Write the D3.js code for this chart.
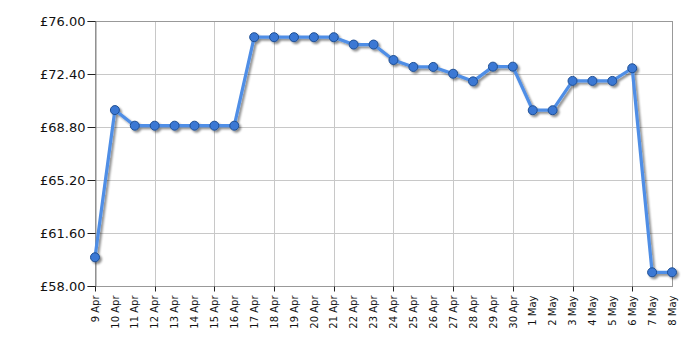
<!DOCTYPE html>
<html>
<head>
<meta charset="utf-8">
<script src="https://cdn.jsdelivr.net/npm/d3@7"></script>
<style>
  body { margin: 0; background: #fff; }
  svg { display: block; }
  .y-label { font-family: 'DejaVu Sans', Verdana, sans-serif; font-size: 13px; fill: #111; }
  .x-label { font-family: 'DejaVu Sans', Verdana, sans-serif; font-size: 10px; fill: #111; }
</style>
</head>
<body>
<div id="chart"></div>
<script>
var dates = ['9 Apr', '10 Apr', '11 Apr', '12 Apr', '13 Apr', '14 Apr', '15 Apr', '16 Apr',
    '17 Apr', '18 Apr', '19 Apr', '20 Apr', '21 Apr', '22 Apr', '23 Apr', '24 Apr', '25 Apr',
    '26 Apr', '27 Apr', '28 Apr', '29 Apr', '30 Apr', '1 May', '2 May', '3 May', '4 May',
    '5 May', '6 May', '7 May', '8 May'];
var prices = [59.95, 69.95, 68.89, 68.89, 68.89, 68.89, 68.89, 68.89,
    74.9, 74.9, 74.9, 74.9, 74.9, 74.4, 74.4, 73.35, 72.88,
    72.88, 72.42, 71.9, 72.9, 72.9, 69.94, 69.94, 71.93, 71.93,
    71.93, 72.79, 58.93, 58.93];
var yTicks = [58, 61.6, 65.2, 68.8, 72.4, 76];

var width = 700, height = 350;
var margin = { top: 21, right: 28, bottom: 64, left: 95 };

var svg = d3.select('#chart')
    .append('svg')
    .attr('width', width)
    .attr('height', height);

var defs = svg.append('defs');
var shadow = defs.append('filter')
    .attr('id', 'shadow')
    .attr('x', '-20%').attr('y', '-20%')
    .attr('width', '140%').attr('height', '140%');
shadow.append('feDropShadow')
    .attr('dx', 2).attr('dy', 2)
    .attr('stdDeviation', 1.2)
    .attr('flood-color', '#000')
    .attr('flood-opacity', 0.45);

var x = d3.scalePoint()
    .domain(dates)
    .range([margin.left, width - margin.right]);

var y = d3.scaleLinear()
    .domain([58, 76])
    .range([height - margin.bottom, margin.top]);

var majorDates = dates.filter(function(d, i) { return i % 3 === 0; });

// grid
var grid = svg.append('g');
grid.selectAll('.hgrid')
    .data(yTicks)
    .enter()
    .append('line')
    .attr('x1', margin.left)
    .attr('x2', width - margin.right)
    .attr('y1', function(d) { return Math.round(y(d)) + 0.5; })
    .attr('y2', function(d) { return Math.round(y(d)) + 0.5; })
    .attr('stroke', '#c8c8c8');

grid.selectAll('.vgrid')
    .data(majorDates)
    .enter()
    .append('line')
    .attr('x1', function(d) { return Math.round(x(d)) + 0.5; })
    .attr('x2', function(d) { return Math.round(x(d)) + 0.5; })
    .attr('y1', margin.top)
    .attr('y2', height - margin.bottom)
    .attr('stroke', '#c8c8c8');

// frame
svg.append('rect')
    .attr('x', margin.left + 0.5)
    .attr('y', Math.round(y(76)) + 0.5)
    .attr('width', Math.round(x(dates[dates.length - 1]) - margin.left))
    .attr('height', Math.round(y(58) - y(76)))
    .attr('fill', 'none')
    .attr('stroke', '#999');

// y axis
var yAxis = d3.axisLeft(y)
    .tickValues(yTicks)
    .tickSize(8)
    .tickPadding(2)
    .tickFormat(function(d) { return '£' + d3.format('.2f')(d); });

var yg = svg.append('g')
    .attr('transform', 'translate(' + (margin.left + 0.5) + ',0)')
    .call(yAxis);
yg.select('.domain').attr('stroke', '#888');
yg.selectAll('.tick line').attr('stroke', '#222');
yg.selectAll('.tick text').attr('class', 'y-label').attr('font-family', null).attr('font-size', null);

// x axis
var xAxis = d3.axisBottom(x)
    .tickSize(0)
    .tickFormat(function(d) { return d; });

var xg = svg.append('g')
    .attr('transform', 'translate(0,' + (Math.round(y(58)) + 0.5) + ')')
    .call(xAxis);
xg.select('.domain').remove();
xg.selectAll('.tick text')
    .attr('class', 'x-label')
    .attr('font-family', null).attr('font-size', null)
    .attr('text-anchor', 'end')
    .attr('transform', 'rotate(-90)')
    .attr('x', -9)
    .attr('y', 0)
    .attr('dy', '0.32em');
xg.selectAll('.major')
    .data(majorDates)
    .enter()
    .append('line')
    .attr('x1', function(d) { return Math.round(x(d)) + 0.5; })
    .attr('x2', function(d) { return Math.round(x(d)) + 0.5; })
    .attr('y1', 0)
    .attr('y2', 5)
    .attr('stroke', '#222');

// series
var line = d3.line()
    .x(function(d, i) { return x(dates[i]); })
    .y(function(d) { return y(d); });

var series = svg.append('g').attr('filter', 'url(#shadow)');

series.append('path')
    .datum(prices)
    .attr('d', line)
    .attr('fill', 'none')
    .attr('stroke', '#4f8ee6')
    .attr('stroke-width', 3.2)
    .attr('stroke-linejoin', 'round');

series.selectAll('.dot')
    .data(prices)
    .enter()
    .append('circle')
    .attr('cx', function(d, i) { return x(dates[i]); })
    .attr('cy', function(d) { return y(d); })
    .attr('r', 4.5)
    .attr('fill', '#3b78d4')
    .attr('stroke', '#1f4f93')
    .attr('stroke-width', 1);
</script>
</body>
</html>
